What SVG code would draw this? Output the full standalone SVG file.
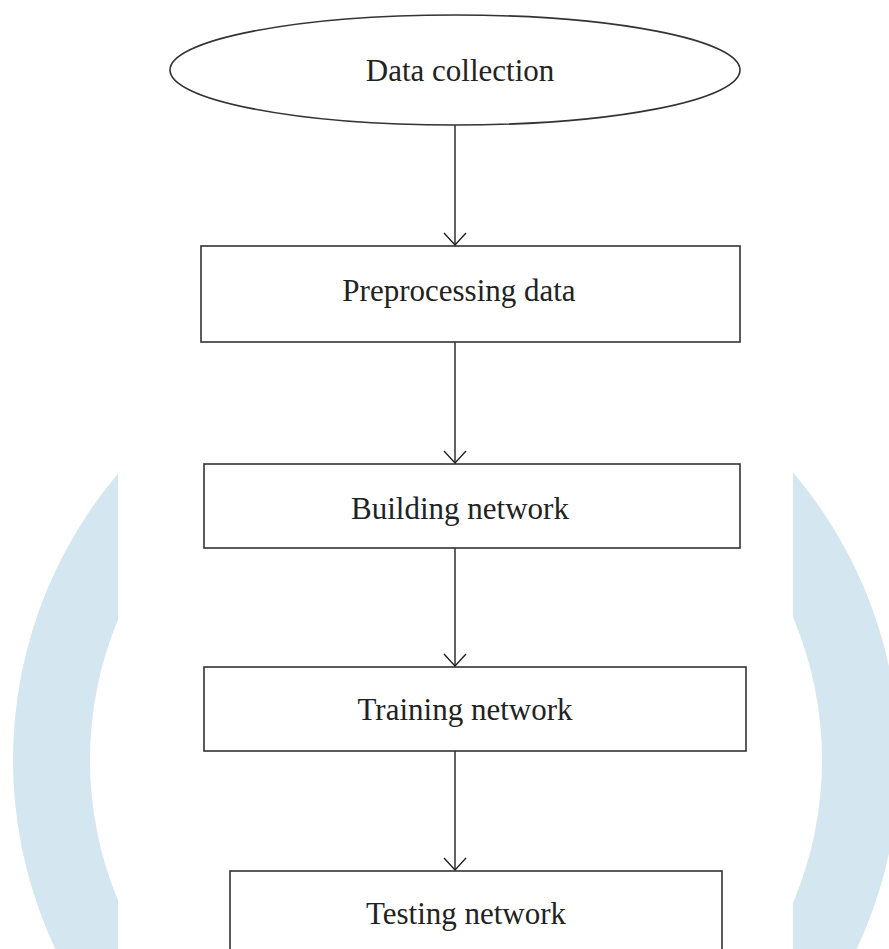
<svg xmlns="http://www.w3.org/2000/svg" width="889" height="949" viewBox="0 0 889 949">
  <style>
    .node { fill: #ffffff; stroke: #333333; stroke-width: 1.6; }
    .label { font-family: "Liberation Serif", "Times New Roman", serif; font-size: 31px; fill: #222222; text-anchor: middle; }
    .edge { fill: none; stroke: #222222; stroke-width: 1.4; }
    .head { fill: none; stroke: #222222; stroke-width: 1.4; }
  </style>
  <defs>
    <clipPath id="sides">
      <rect x="0" y="0" width="118" height="949"/>
      <rect x="793" y="0" width="96" height="949"/>
    </clipPath>
  </defs>

  <rect x="0" y="0" width="889" height="949" fill="#ffffff"/>

  <!-- background ring, visible only at the sides -->
  <path clip-path="url(#sides)" fill="#d4e7f1" fill-rule="evenodd"
        d="M 13 760 A 443 443 0 1 0 899 760 A 443 443 0 1 0 13 760 Z
           M 90 760 A 366 366 0 1 0 822 760 A 366 366 0 1 0 90 760 Z"/>

  <!-- connectors -->
  <g id="connectors">
    <line class="edge" x1="455" y1="125" x2="455" y2="246"/>
    <polyline class="head" points="444,233 455,245 466,233"/>
    <line class="edge" x1="455" y1="342" x2="455" y2="464"/>
    <polyline class="head" points="444,451 455,463 466,451"/>
    <line class="edge" x1="455" y1="548" x2="455" y2="667"/>
    <polyline class="head" points="444,654 455,666 466,654"/>
    <line class="edge" x1="455" y1="751" x2="455" y2="871"/>
    <polyline class="head" points="444,858 455,870 466,858"/>
  </g>

  <g id="data-collection">
    <ellipse class="node" cx="455" cy="70" rx="285" ry="55" stroke-width="1.3"/>
    <text class="label" x="460" y="81">Data collection</text>
  </g>

  <g id="preprocessing-data">
    <rect class="node" x="201" y="246" width="539" height="96"/>
    <text class="label" x="459" y="301">Preprocessing data</text>
  </g>

  <g id="building-network">
    <rect class="node" x="204" y="464" width="536" height="84"/>
    <text class="label" x="460" y="519">Building network</text>
  </g>

  <g id="training-network">
    <rect class="node" x="204" y="667" width="542" height="84"/>
    <text class="label" x="465" y="720">Training network</text>
  </g>

  <g id="testing-network">
    <rect class="node" x="230" y="871" width="492" height="100"/>
    <text class="label" x="466" y="924">Testing network</text>
  </g>
</svg>
